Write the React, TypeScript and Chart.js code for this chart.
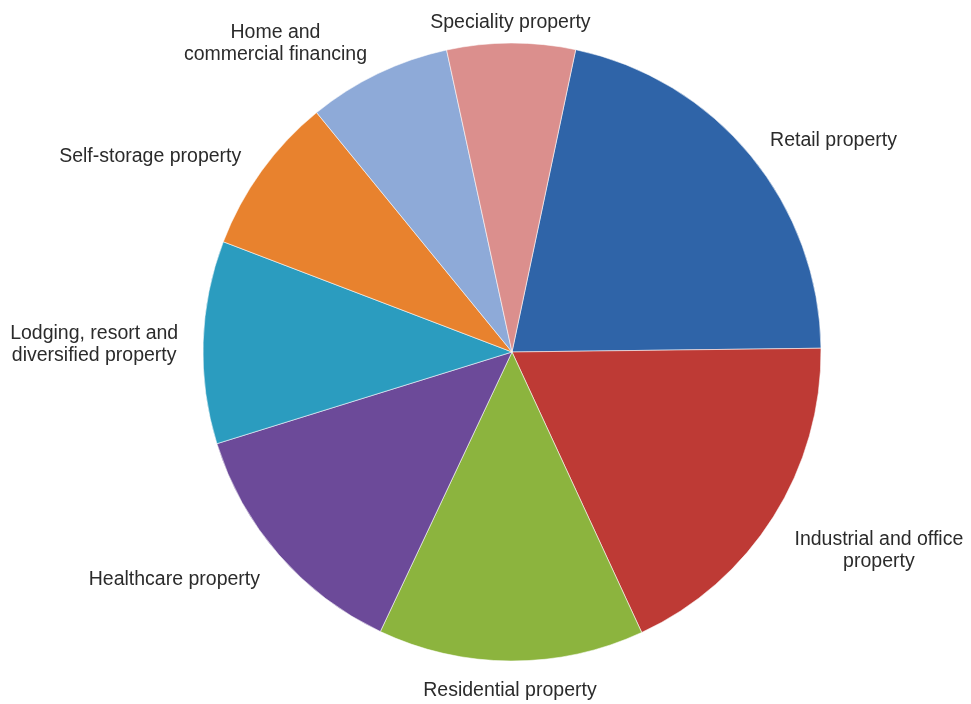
import React, { useEffect, useRef } from "react";
import { Chart, registerables } from "chart.js";

Chart.register(...registerables);

const categories: string[][] = [
  ["Retail property"],
  ["Industrial and office", "property"],
  ["Residential property"],
  ["Healthcare property"],
  ["Lodging, resort and", "diversified property"],
  ["Self-storage property"],
  ["Home and", "commercial financing"],
  ["Speciality property"],
];

const shares: number[] = [21.5, 18.3, 13.9, 13.2, 10.6, 8.3, 7.5, 6.7];

const sliceColors: string[] = [
  "#2f64a8",
  "#be3a35",
  "#8cb43e",
  "#6c4a99",
  "#2b9cbf",
  "#e8822e",
  "#8eaad8",
  "#db8f8d",
];

const FONT = '19.5px "Liberation Sans", Arial, sans-serif';
const LINE_H = 22;
const PAD_X = 25;
const PAD_Y = 14;
const SHIFT_Y = 4.5;

const clamp1 = (v: number) => Math.max(-1, Math.min(1, v * 3));

const outsideLabels = {
  id: "outsideLabels",
  afterDatasetsDraw(chart: any) {
    const ctx = chart.ctx as CanvasRenderingContext2D;
    const meta = chart.getDatasetMeta(0);
    const labels = chart.data.labels as string[][];
    ctx.save();
    ctx.font = FONT;
    ctx.fillStyle = "#2b2b2b";
    ctx.textAlign = "center";
    ctx.textBaseline = "middle";
    meta.data.forEach((arc: any, i: number) => {
      const p = arc.getProps(["x", "y", "startAngle", "endAngle", "outerRadius"], true);
      const mid = (p.startAngle + p.endAngle) / 2;
      const cx = Math.cos(mid);
      const cy = Math.sin(mid);
      const ax = p.x + cx * (p.outerRadius + PAD_X);
      const ay = p.y + cy * (p.outerRadius + PAD_Y);
      const lines = labels[i];
      const w = Math.max(...lines.map((l) => ctx.measureText(l).width));
      const h = lines.length * LINE_H;
      const bx = ax + clamp1(cx) * (w / 2);
      const by = ay + clamp1(cy) * (h / 2) + SHIFT_Y;
      const top = by - h / 2;
      lines.forEach((line, j) => {
        ctx.fillText(line, bx, top + LINE_H / 2 + j * LINE_H);
      });
    });
    ctx.restore();
  },
};

export default function App() {
  const ref = useRef<HTMLCanvasElement | null>(null);

  useEffect(() => {
    document.body.style.margin = "0";
    const canvas = ref.current;
    if (!canvas) return;
    const chart = new Chart(canvas, {
      type: "pie",
      data: {
        labels: categories as any,
        datasets: [
          {
            data: shares,
            backgroundColor: sliceColors,
            borderColor: "rgba(255,255,255,0.55)",
            borderWidth: 1,
            hoverOffset: 0,
            radius: 309,
          } as any,
        ],
      },
      options: {
        responsive: false,
        animation: false,
        rotation: 11.9,
        layout: { padding: { left: 53, right: 0, top: 0, bottom: 0 } },
        plugins: {
          legend: { display: false },
          tooltip: { enabled: false },
        },
      } as any,
      plugins: [outsideLabels],
    });
    return () => chart.destroy();
  }, []);

  return (
    <div style={{ width: 971, height: 704, background: "#ffffff" }}>
      <canvas ref={ref} width={971} height={704} />
    </div>
  );
}
